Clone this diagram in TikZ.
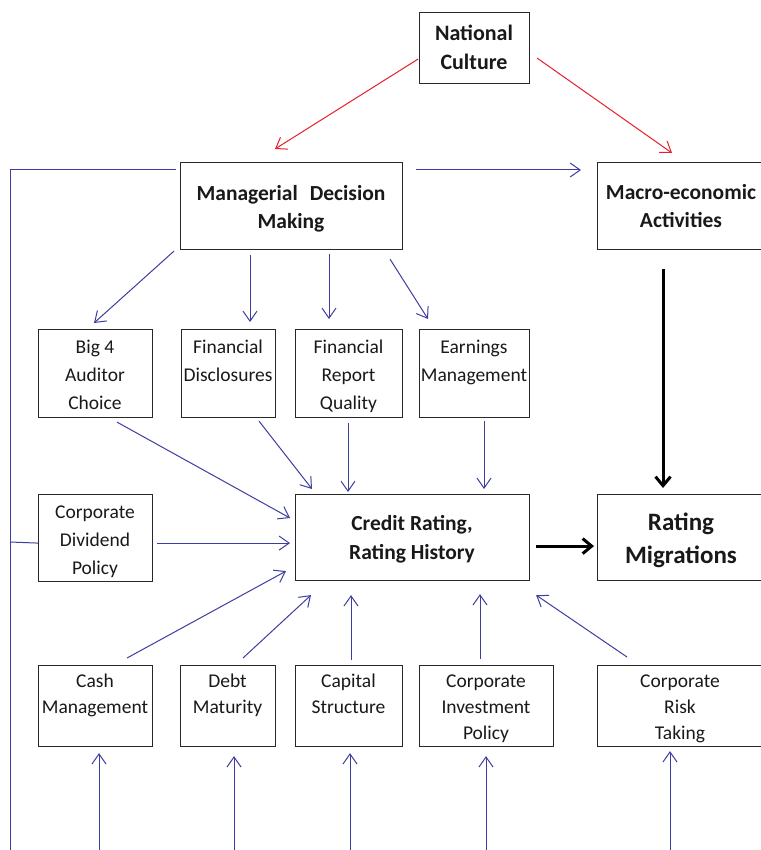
\documentclass[tikz,border=0pt]{standalone}
\usepackage{fontspec}
\setmainfont{Carlito}
\usetikzlibrary{arrows.meta}
\definecolor{lineblue}{RGB}{62,62,160}
\definecolor{linered}{RGB}{232,30,40}
\definecolor{boxgray}{RGB}{40,40,40}
\newcommand{\mystrut}[1]{\rule{0pt}{#1}}
\begin{document}
\begin{tikzpicture}[x=1pt,y=-1pt,
  box/.style={draw=boxgray, line width=1.1pt, inner sep=0pt, anchor=north west},
  rtxt/.style={anchor=north, inner sep=0pt, align=center, text=black!90, font=\fontsize{19.5}{28}\selectfont},
  rtxtb/.style={anchor=north, inner sep=0pt, align=center, text=black!90, font=\fontsize{19.5}{26.2}\selectfont},
  btxt/.style={anchor=north, inner sep=0pt, align=center, text=black!90},
  barr/.style={draw=lineblue, line width=1pt, -{Straight Barb[length=10pt,width=14pt]}},
  bline/.style={draw=lineblue, line width=1pt},
  rarr/.style={draw=linered, line width=1pt, -{Straight Barb[length=10pt,width=14pt]}},
  karr/.style={draw=black, line width=3pt, -{Straight Barb[length=9pt,width=15pt]}}
]
\useasboundingbox[fill=white] (0,0) rectangle (760,850);

% boxes
\node[box, minimum width=110pt, minimum height=71pt] (nc) at (419,12) {};
\node[box, minimum width=222pt, minimum height=87pt] (mdm) at (180,162) {};
\node[box, minimum width=168pt, minimum height=87pt] (mac) at (597,162) {};
\node[box, minimum width=114pt, minimum height=88pt] (big4) at (38,329) {};
\node[box, minimum width=94pt, minimum height=88pt] (fd) at (181,329) {};
\node[box, minimum width=107pt, minimum height=88pt] (frq) at (295,329) {};
\node[box, minimum width=110pt, minimum height=88pt] (em) at (419,329) {};
\node[box, minimum width=114pt, minimum height=87pt] (div) at (38,494) {};
\node[box, minimum width=234pt, minimum height=86pt] (cr) at (295,494) {};
\node[box, minimum width=168pt, minimum height=86pt] (rm) at (597,494) {};
\node[box, minimum width=114pt, minimum height=81pt] (cash) at (38,665) {};
\node[box, minimum width=95pt, minimum height=81pt] (debt) at (180,665) {};
\node[box, minimum width=107pt, minimum height=81pt] (cap) at (295,665) {};
\node[box, minimum width=134pt, minimum height=81pt] (inv) at (419,665) {};
\node[box, minimum width=168pt, minimum height=81pt] (risk) at (597,665) {};

% texts
\node[btxt, font=\fontsize{22}{29}\selectfont\bfseries] (nct) at (474,22) {\mystrut{18pt}National\\Culture};
\node[btxt, font=\fontsize{21.5}{28}\selectfont\bfseries] (mdmt) at (291,182) {\mystrut{18pt}Managerial\hspace{12pt}Decision\\Making};
\node[btxt, font=\fontsize{21.5}{28}\selectfont\bfseries] (mact) at (681,181) {\mystrut{18pt}Macro-economic\\Activities};
\node[btxt, font=\fontsize{21.5}{29}\selectfont\bfseries] (crt) at (412,512) {\mystrut{18pt}Credit Rating,\\Rating History};
\node[btxt, font=\fontsize{25}{33}\selectfont\bfseries] (rmt) at (681,509) {\mystrut{21pt}Rating\\Migrations};
\node[rtxt] (big4t) at (95,337) {\mystrut{16pt}Big 4\\Auditor\\Choice};
\node[rtxt] (fdt) at (228,337) {\mystrut{16pt}Financial\\Disclosures};
\node[rtxt] (frqt) at (348.5,337) {\mystrut{16pt}Financial\\Report\\Quality};
\node[rtxt] (emt) at (474,337) {\mystrut{16pt}Earnings\\Management};
\node[rtxt] (divt) at (95,502) {\mystrut{16pt}Corporate\\Dividend\\Policy};
\node[rtxtb] (casht) at (95,671) {\mystrut{16pt}Cash\\Management};
\node[rtxtb] (debtt) at (227.5,671) {\mystrut{16pt}Debt\\Maturity};
\node[rtxtb] (capt) at (348.5,671) {\mystrut{16pt}Capital\\Structure};
\node[rtxtb] (invt) at (486,671) {\mystrut{16pt}Corporate\\Investment\\Policy};
\node[rtxtb] (riskt) at (680,671) {\mystrut{16pt}Corporate\\Risk\\Taking};

% free ends
\coordinate (fbj) at (10,542);
\coordinate (fbb) at (10,860);
\coordinate (b1) at (99,860);
\coordinate (b2) at (234,860);
\coordinate (b3) at (350,860);
\coordinate (b4) at (486,860);
\coordinate (b5) at (670,860);

% red arrows
\draw[rarr] ([shift={(-1,-25)}]nc.south west) -- ([shift={(95,-13)}]mdm.north west);
\draw[rarr] ([shift={(7,-26)}]nc.south east) -- ([shift={(75,-9)}]mac.north west);

% managerial to macro
\draw[barr] ([shift={(13,8)}]mdm.north east) -- ([shift={(-16,8)}]mac.north west);
% feedback line on the left
\draw[bline] ([shift={(-4,8)}]mdm.north west) -| (fbb);
\draw[bline] (fbj) -- ([shift={(0,-39)}]div.south west);

% managerial down
\draw[barr] ([shift={(-6,1)}]mdm.south west) -- ([shift={(56,-6)}]big4.north west);
\draw[barr] ([shift={(70,5)}]mdm.south west) -- ([shift={(69,-7)}]fd.north west);
\draw[barr] ([shift={(149,4)}]mdm.south west) -- ([shift={(34,-10)}]frq.north west);
\draw[barr] ([shift={(210,9)}]mdm.south west) -- ([shift={(9,-10)}]em.north west);

% row 2 to credit rating
\draw[barr] ([shift={(79,4)}]big4.south west) -- ([shift={(-5,24)}]cr.north west);
\draw[barr] ([shift={(78,3)}]fd.south west) -- ([shift={(17,-5)}]cr.north west);
\draw[barr] ([shift={(53,5)}]frq.south west) -- ([shift={(53,-2)}]cr.north west);
\draw[barr] ([shift={(65,3)}]em.south west) -- ([shift={(189,-5)}]cr.north west);
\draw[barr] ([shift={(4,-39)}]div.south east) -- ([shift={(-5,-38)}]cr.south west);

% row 4 to credit rating
\draw[barr] ([shift={(89,-7)}]cash.north west) -- ([shift={(-9,-10)}]cr.south west);
\draw[barr] ([shift={(63,-7)}]debt.north west) -- ([shift={(16,14)}]cr.south west);
\draw[barr] ([shift={(56,-5)}]cap.north west) -- ([shift={(56,14)}]cr.south west);
\draw[barr] ([shift={(61,-6)}]inv.north west) -- ([shift={(185,13)}]cr.south west);
\draw[barr] ([shift={(30,-8)}]risk.north west) -- ([shift={(6,14)}]cr.south east);

% bottom arrows
\draw[barr] (b1) -- ([shift={(61,6)}]cash.south west);
\draw[barr] (b2) -- ([shift={(54,9)}]debt.south west);
\draw[barr] (b3) -- ([shift={(55,6)}]cap.south west);
\draw[barr] (b4) -- ([shift={(67,9)}]inv.south west);
\draw[barr] (b5) -- ([shift={(73,4)}]risk.south west);

% black arrows
\draw[karr] ([shift={(66,19)}]mac.south west) -- ([shift={(66,-6)}]rm.north west);
\draw[karr] ([shift={(6,-35)}]cr.south east) -- ([shift={(-3,-35)}]rm.south west);
\end{tikzpicture}
\end{document}
